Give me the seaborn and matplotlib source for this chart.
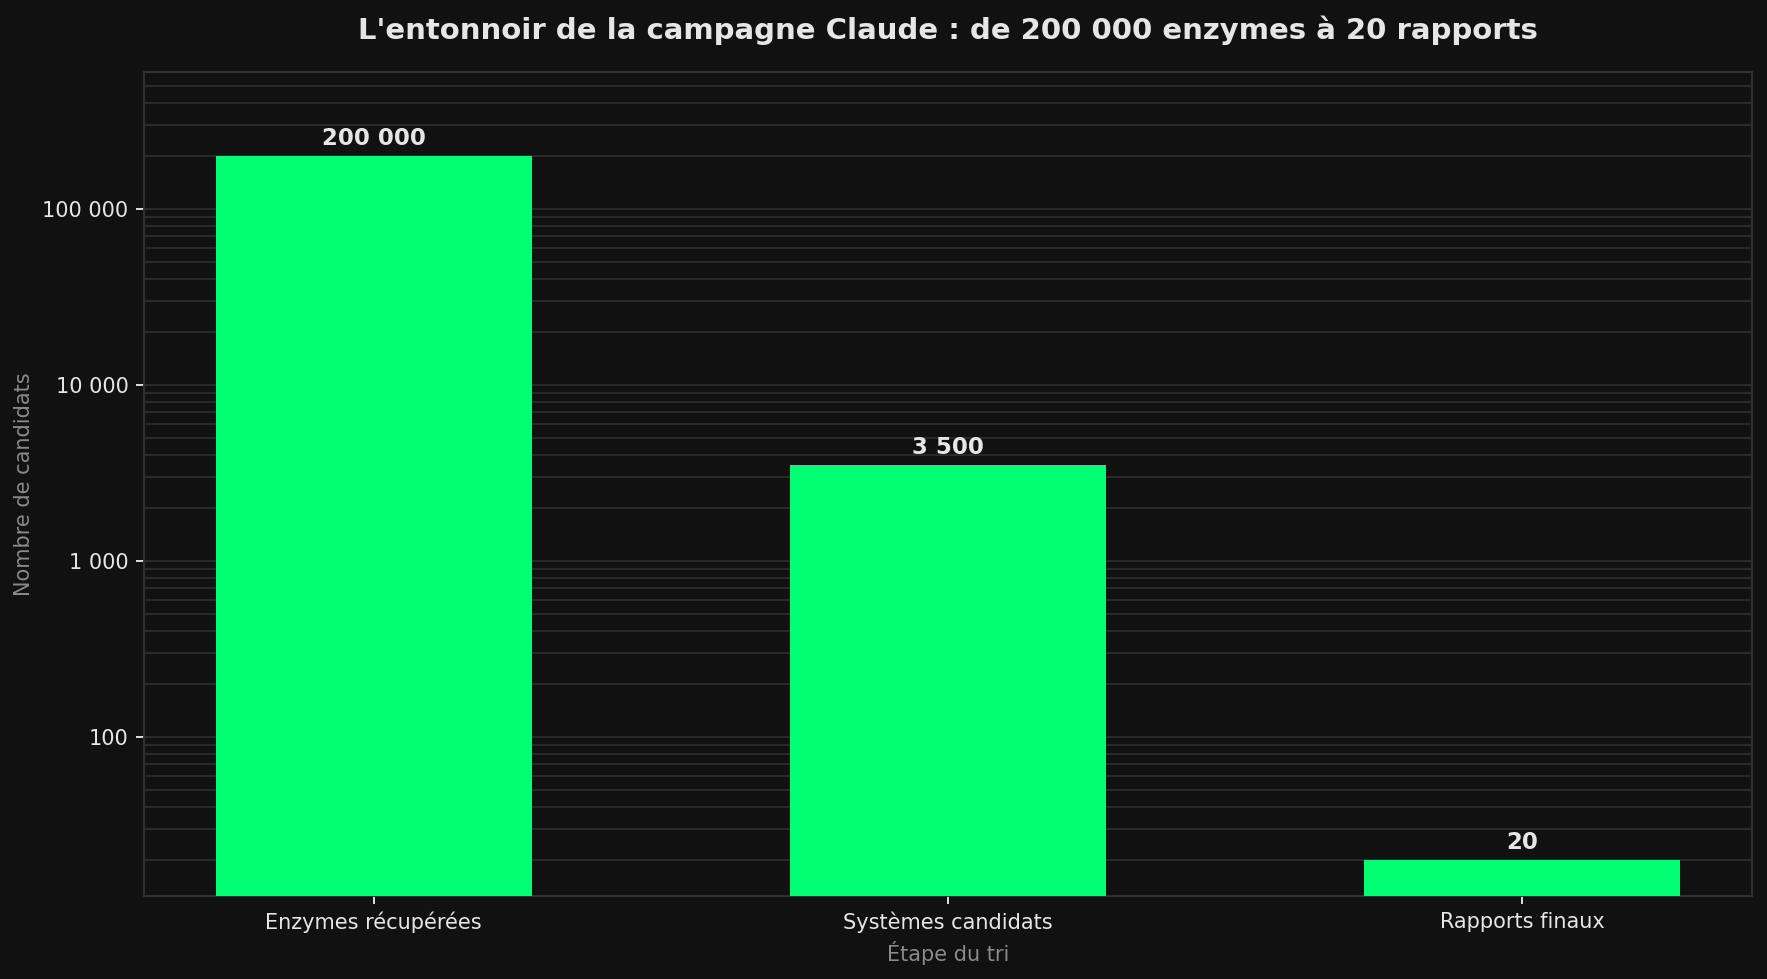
import matplotlib
matplotlib.use("Agg")
import matplotlib.pyplot as plt
import numpy as np
import pandas as pd
import seaborn as sns
from matplotlib.ticker import FuncFormatter, LogLocator, NullFormatter

BG = "#111111"
GREEN = "#00ff73"
TEXT = "#e6e6e6"
MUTED = "#8a8a8a"
GRID = "#2b2b2b"

stages = ["Enzymes récupérées", "Systèmes candidats", "Rapports finaux"]
counts = [200000, 3500, 20]

df = pd.DataFrame({"stage": stages, "count": counts})


def fr_thousands(v, _pos=None):
    return f"{int(round(v)):,}".replace(",", " ")


sns.set_theme(style="dark")
plt.rcParams["font.family"] = ["DejaVu Sans"]

fig = plt.figure(figsize=(11.78, 6.527), dpi=150, facecolor=BG)
ax = fig.add_axes([0.0815, 0.0848, 0.910, 0.8417])
ax.set_facecolor(BG)

sns.barplot(data=df, x="stage", y="count", color=GREEN, width=0.55,
            saturation=1, linewidth=0, ax=ax, zorder=3)
ax.set_yscale("log")
ax.set_ylim(12.5, 6.0e5)
ax.set_xlim(-0.40, 2.40)

ax.yaxis.set_major_locator(LogLocator(base=10))
ax.yaxis.set_minor_locator(LogLocator(base=10, subs=np.arange(2, 10)))
ax.yaxis.set_major_formatter(FuncFormatter(fr_thousands))
ax.yaxis.set_minor_formatter(NullFormatter())

ax.set_axisbelow(True)
ax.grid(True, which="both", axis="y", color=GRID, linewidth=0.9)
ax.grid(False, axis="x")

for i, v in enumerate(counts):
    ax.annotate(fr_thousands(v), xy=(i, v), xytext=(0, 3),
                textcoords="offset points", ha="center", va="bottom",
                fontsize=11, fontweight="bold", color=TEXT)

ax.tick_params(axis="both", which="major", colors=TEXT, labelsize=10,
               length=4, width=0.9, left=True, bottom=True)
ax.tick_params(axis="y", which="minor", length=0)
for s in ax.spines.values():
    s.set_color("#333333")
    s.set_linewidth(0.9)

ax.set_xlabel("Étape du tri", color=MUTED, fontsize=10, labelpad=4)
ax.set_ylabel("Nombre de candidats", color=MUTED, fontsize=10, labelpad=4)
ax.set_title("L'entonnoir de la campagne Claude : de 200 000 enzymes à 20 rapports",
             color=TEXT, fontsize=14, fontweight="bold", pad=16)

fig.savefig("out.png", dpi=150, facecolor=BG)
